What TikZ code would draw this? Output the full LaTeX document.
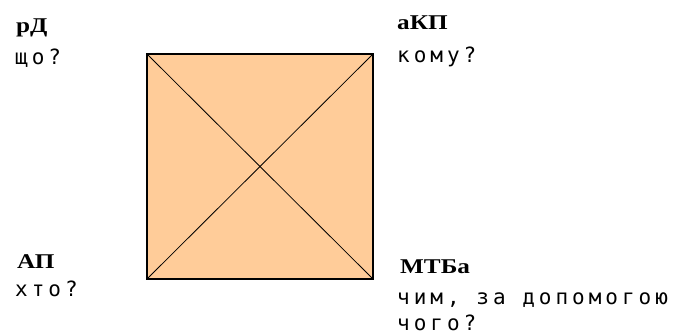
\documentclass[tikz,border=0pt]{standalone}
\usepackage{fontspec}
\usepackage{graphicx}
\setmainfont{Liberation Serif}
\newfontfamily\qfont{DejaVu Sans Mono}[LetterSpace=19]
\tikzset{
  role/.style={anchor=base west, inner sep=0pt, font=\fontsize{21}{23}\selectfont\bfseries},
  question/.style={anchor=base west, inner sep=0pt, font=\fontsize{21}{23}\qfont},
  frame/.style={draw=black, line width=1.6pt, fill=boxfill},
  diag/.style={draw=black, line width=0.8pt}
}
\definecolor{boxfill}{HTML}{FFCC99}
\newcommand{\wide}[1]{\scalebox{1.2}[1]{#1}}
\begin{document}
\begin{tikzpicture}[x=1pt,y=-1pt]
  \useasboundingbox (0,0) rectangle (675,334);
  % square with its corners
  \coordinate (tl) at (147,54);
  \coordinate (tr) at (373,54);
  \coordinate (br) at (373,279);
  \coordinate (bl) at (147,279);
  \path[frame] (tl) -- (tr) -- (br) -- (bl) -- cycle;
  \draw[diag] (tl) -- (br);
  \draw[diag] (tr) -- (bl);
  % corner labels
  \node[role] (rd) at (16,33) {\wide{рД}};
  \node[question] (rdq) at (15,65) {що?};
  \node[role] (akp) at (397,30) {\wide{аКП}};
  \node[question] (akpq) at (397,63) {кому?};
  \node[role] (ap) at (17,268) {\wide{АП}};
  \node[question] (apq) at (15,296) {хто?};
  \node[role] (mtba) at (400,273) {\wide{МТБа}};
  \node[question] (mtbaq) at (397,304) {чим, за допомогою};
  \node[question] (mtbaq2) at (397,330) {чого?};
\end{tikzpicture}
\end{document}
